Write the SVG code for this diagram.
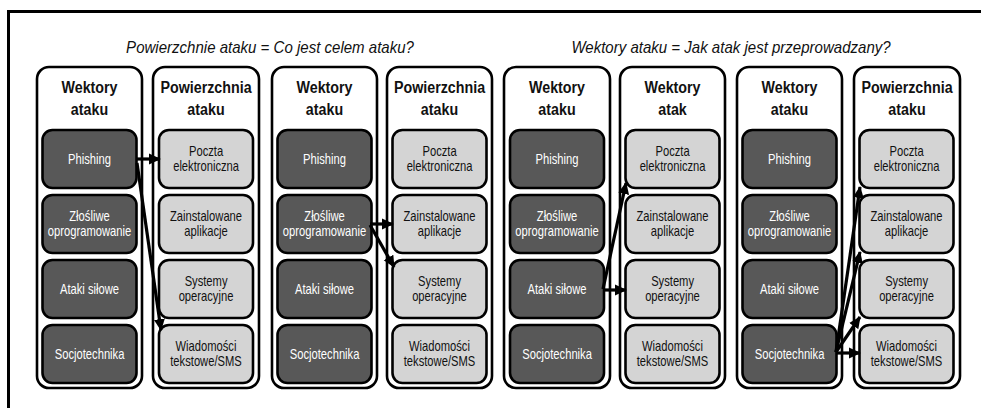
<svg xmlns="http://www.w3.org/2000/svg" width="981" height="408" viewBox="0 0 981 408">
<style>
.frame{fill:none;stroke:#000;stroke-width:3}
.col{fill:#fff;stroke:#000;stroke-width:2.6}
.dk{fill:#585858;stroke:#000;stroke-width:2.6}
.lt{fill:#d4d4d4;stroke:#000;stroke-width:2.6}
text{font-family:"Liberation Sans",Arial,sans-serif;text-anchor:middle;transform-box:fill-box;transform-origin:center}
.hd{font-size:17px;font-weight:bold;fill:#111;transform:scaleX(0.84)}
.tw{font-size:14px;fill:#fff;transform:scaleX(0.8)}
.tb{font-size:14px;fill:#111;transform:scaleX(0.8)}
.ti{font-size:16px;font-style:italic;fill:#111;transform:scaleX(0.94)}
.ar{fill:none;stroke:#000;stroke-width:3.2;marker-end:url(#ah)}
</style>
<defs>
<marker id="ah" viewBox="0 0 12 12" refX="11" refY="6" markerWidth="12" markerHeight="12" markerUnits="userSpaceOnUse" orient="auto">
<path d="M0,0.5 L12,6 L0,11.5 Z" fill="#000"/>
</marker>
</defs>
<rect width="981" height="408" fill="#fff"/>
<path class="frame" d="M8.5,408 V11.5 H981"/>
<text class="ti" x="270" y="53">Powierzchnie ataku = Co jest celem ataku?</text>
<text class="ti" x="731" y="53">Wektory ataku = Jak atak jest przeprowadzany?</text>

<g id="col1">
<rect class="col" x="37" y="67" width="105" height="321" rx="12"/>
<text class="hd" x="89.5" y="93">Wektory</text><text class="hd" x="89.5" y="115">ataku</text>
<g id="c1-phishing"><rect class="dk" x="42.5" y="130" width="94" height="58" rx="10"/><text class="tw" x="89.5" y="164">Phishing</text></g>
<g id="c1-malware"><rect class="dk" x="42.5" y="195" width="94" height="58" rx="10"/><text class="tw" x="89.5" y="221">Złośliwe</text><text class="tw" x="89.5" y="236.5">oprogramowanie</text></g>
<g id="c1-brute"><rect class="dk" x="42.5" y="260" width="94" height="58" rx="10"/><text class="tw" x="89.5" y="294">Ataki siłowe</text></g>
<g id="c1-social"><rect class="dk" x="42.5" y="325" width="94" height="58" rx="10"/><text class="tw" x="89.5" y="359">Socjotechnika</text></g>
</g>
<g id="col2">
<rect class="col" x="153" y="67" width="106" height="321" rx="12"/>
<text class="hd" x="206" y="93">Powierzchnia</text><text class="hd" x="206" y="115">ataku</text>
<g id="c2-email"><rect class="lt" x="159" y="130" width="94" height="58" rx="10"/><text class="tb" x="206" y="156">Poczta</text><text class="tb" x="206" y="171.5">elektroniczna</text></g>
<g id="c2-apps"><rect class="lt" x="159" y="195" width="94" height="58" rx="10"/><text class="tb" x="206" y="221">Zainstalowane</text><text class="tb" x="206" y="236.5">aplikacje</text></g>
<g id="c2-os"><rect class="lt" x="159" y="260" width="94" height="58" rx="10"/><text class="tb" x="206" y="286">Systemy</text><text class="tb" x="206" y="301.5">operacyjne</text></g>
<g id="c2-sms"><rect class="lt" x="159" y="325" width="94" height="58" rx="10"/><text class="tb" x="206" y="351">Wiadomości</text><text class="tb" x="206" y="366.5">tekstowe/SMS</text></g>
</g>

<g id="col3">
<rect class="col" x="272" y="67" width="105" height="321" rx="12"/>
<text class="hd" x="324.5" y="93">Wektory</text><text class="hd" x="324.5" y="115">ataku</text>
<g id="c3-phishing"><rect class="dk" x="277.5" y="130" width="94" height="58" rx="10"/><text class="tw" x="324.5" y="164">Phishing</text></g>
<g id="c3-malware"><rect class="dk" x="277.5" y="195" width="94" height="58" rx="10"/><text class="tw" x="324.5" y="221">Złośliwe</text><text class="tw" x="324.5" y="236.5">oprogramowanie</text></g>
<g id="c3-brute"><rect class="dk" x="277.5" y="260" width="94" height="58" rx="10"/><text class="tw" x="324.5" y="294">Ataki siłowe</text></g>
<g id="c3-social"><rect class="dk" x="277.5" y="325" width="94" height="58" rx="10"/><text class="tw" x="324.5" y="359">Socjotechnika</text></g>
</g>
<g id="col4">
<rect class="col" x="387" y="67" width="105" height="321" rx="12"/>
<text class="hd" x="439.5" y="93">Powierzchnia</text><text class="hd" x="439.5" y="115">ataku</text>
<g id="c4-email"><rect class="lt" x="392.5" y="130" width="94" height="58" rx="10"/><text class="tb" x="439.5" y="156">Poczta</text><text class="tb" x="439.5" y="171.5">elektroniczna</text></g>
<g id="c4-apps"><rect class="lt" x="392.5" y="195" width="94" height="58" rx="10"/><text class="tb" x="439.5" y="221">Zainstalowane</text><text class="tb" x="439.5" y="236.5">aplikacje</text></g>
<g id="c4-os"><rect class="lt" x="392.5" y="260" width="94" height="58" rx="10"/><text class="tb" x="439.5" y="286">Systemy</text><text class="tb" x="439.5" y="301.5">operacyjne</text></g>
<g id="c4-sms"><rect class="lt" x="392.5" y="325" width="94" height="58" rx="10"/><text class="tb" x="439.5" y="351">Wiadomości</text><text class="tb" x="439.5" y="366.5">tekstowe/SMS</text></g>
</g>

<g id="col5">
<rect class="col" x="504" y="67" width="106" height="321" rx="12"/>
<text class="hd" x="557" y="93">Wektory</text><text class="hd" x="557" y="115">ataku</text>
<g id="c5-phishing"><rect class="dk" x="510" y="130" width="94" height="58" rx="10"/><text class="tw" x="557" y="164">Phishing</text></g>
<g id="c5-malware"><rect class="dk" x="510" y="195" width="94" height="58" rx="10"/><text class="tw" x="557" y="221">Złośliwe</text><text class="tw" x="557" y="236.5">oprogramowanie</text></g>
<g id="c5-brute"><rect class="dk" x="510" y="260" width="94" height="58" rx="10"/><text class="tw" x="557" y="294">Ataki siłowe</text></g>
<g id="c5-social"><rect class="dk" x="510" y="325" width="94" height="58" rx="10"/><text class="tw" x="557" y="359">Socjotechnika</text></g>
</g>
<g id="col6">
<rect class="col" x="620" y="67" width="105" height="321" rx="12"/>
<text class="hd" x="672.5" y="93">Wektory</text><text class="hd" x="672.5" y="115">atak</text>
<g id="c6-email"><rect class="lt" x="625.5" y="130" width="94" height="58" rx="10"/><text class="tb" x="672.5" y="156">Poczta</text><text class="tb" x="672.5" y="171.5">elektroniczna</text></g>
<g id="c6-apps"><rect class="lt" x="625.5" y="195" width="94" height="58" rx="10"/><text class="tb" x="672.5" y="221">Zainstalowane</text><text class="tb" x="672.5" y="236.5">aplikacje</text></g>
<g id="c6-os"><rect class="lt" x="625.5" y="260" width="94" height="58" rx="10"/><text class="tb" x="672.5" y="286">Systemy</text><text class="tb" x="672.5" y="301.5">operacyjne</text></g>
<g id="c6-sms"><rect class="lt" x="625.5" y="325" width="94" height="58" rx="10"/><text class="tb" x="672.5" y="351">Wiadomości</text><text class="tb" x="672.5" y="366.5">tekstowe/SMS</text></g>
</g>

<g id="col7">
<rect class="col" x="737" y="67" width="105" height="321" rx="12"/>
<text class="hd" x="789.5" y="93">Wektory</text><text class="hd" x="789.5" y="115">ataku</text>
<g id="c7-phishing"><rect class="dk" x="742.5" y="130" width="94" height="58" rx="10"/><text class="tw" x="789.5" y="164">Phishing</text></g>
<g id="c7-malware"><rect class="dk" x="742.5" y="195" width="94" height="58" rx="10"/><text class="tw" x="789.5" y="221">Złośliwe</text><text class="tw" x="789.5" y="236.5">oprogramowanie</text></g>
<g id="c7-brute"><rect class="dk" x="742.5" y="260" width="94" height="58" rx="10"/><text class="tw" x="789.5" y="294">Ataki siłowe</text></g>
<g id="c7-social"><rect class="dk" x="742.5" y="325" width="94" height="58" rx="10"/><text class="tw" x="789.5" y="359">Socjotechnika</text></g>
</g>
<g id="col8">
<rect class="col" x="854" y="67" width="106" height="321" rx="12"/>
<text class="hd" x="907" y="93">Powierzchnia</text><text class="hd" x="907" y="115">ataku</text>
<g id="c8-email"><rect class="lt" x="859.5" y="130" width="94" height="58" rx="10"/><text class="tb" x="906.5" y="156">Poczta</text><text class="tb" x="906.5" y="171.5">elektroniczna</text></g>
<g id="c8-apps"><rect class="lt" x="859.5" y="195" width="94" height="58" rx="10"/><text class="tb" x="906.5" y="221">Zainstalowane</text><text class="tb" x="906.5" y="236.5">aplikacje</text></g>
<g id="c8-os"><rect class="lt" x="859.5" y="260" width="94" height="58" rx="10"/><text class="tb" x="906.5" y="286">Systemy</text><text class="tb" x="906.5" y="301.5">operacyjne</text></g>
<g id="c8-sms"><rect class="lt" x="859.5" y="325" width="94" height="58" rx="10"/><text class="tb" x="906.5" y="351">Wiadomości</text><text class="tb" x="906.5" y="366.5">tekstowe/SMS</text></g>
</g>

<g id="connectors">
<line class="ar" x1="136" y1="159" x2="160" y2="159"/>
<line class="ar" x1="137" y1="163" x2="161" y2="330"/>
<line class="ar" x1="370" y1="224" x2="393" y2="224"/>
<line class="ar" x1="370" y1="225" x2="394" y2="267"/>
<line class="ar" x1="603" y1="290" x2="626" y2="290"/>
<line class="ar" x1="603" y1="289" x2="626" y2="183"/>
<line class="ar" x1="836" y1="353" x2="860" y2="353"/>
<line class="ar" x1="836" y1="352" x2="860" y2="187"/>
<line class="ar" x1="836" y1="352" x2="860" y2="252"/>
<line class="ar" x1="836" y1="352" x2="860" y2="317"/>
</g>
</svg>
